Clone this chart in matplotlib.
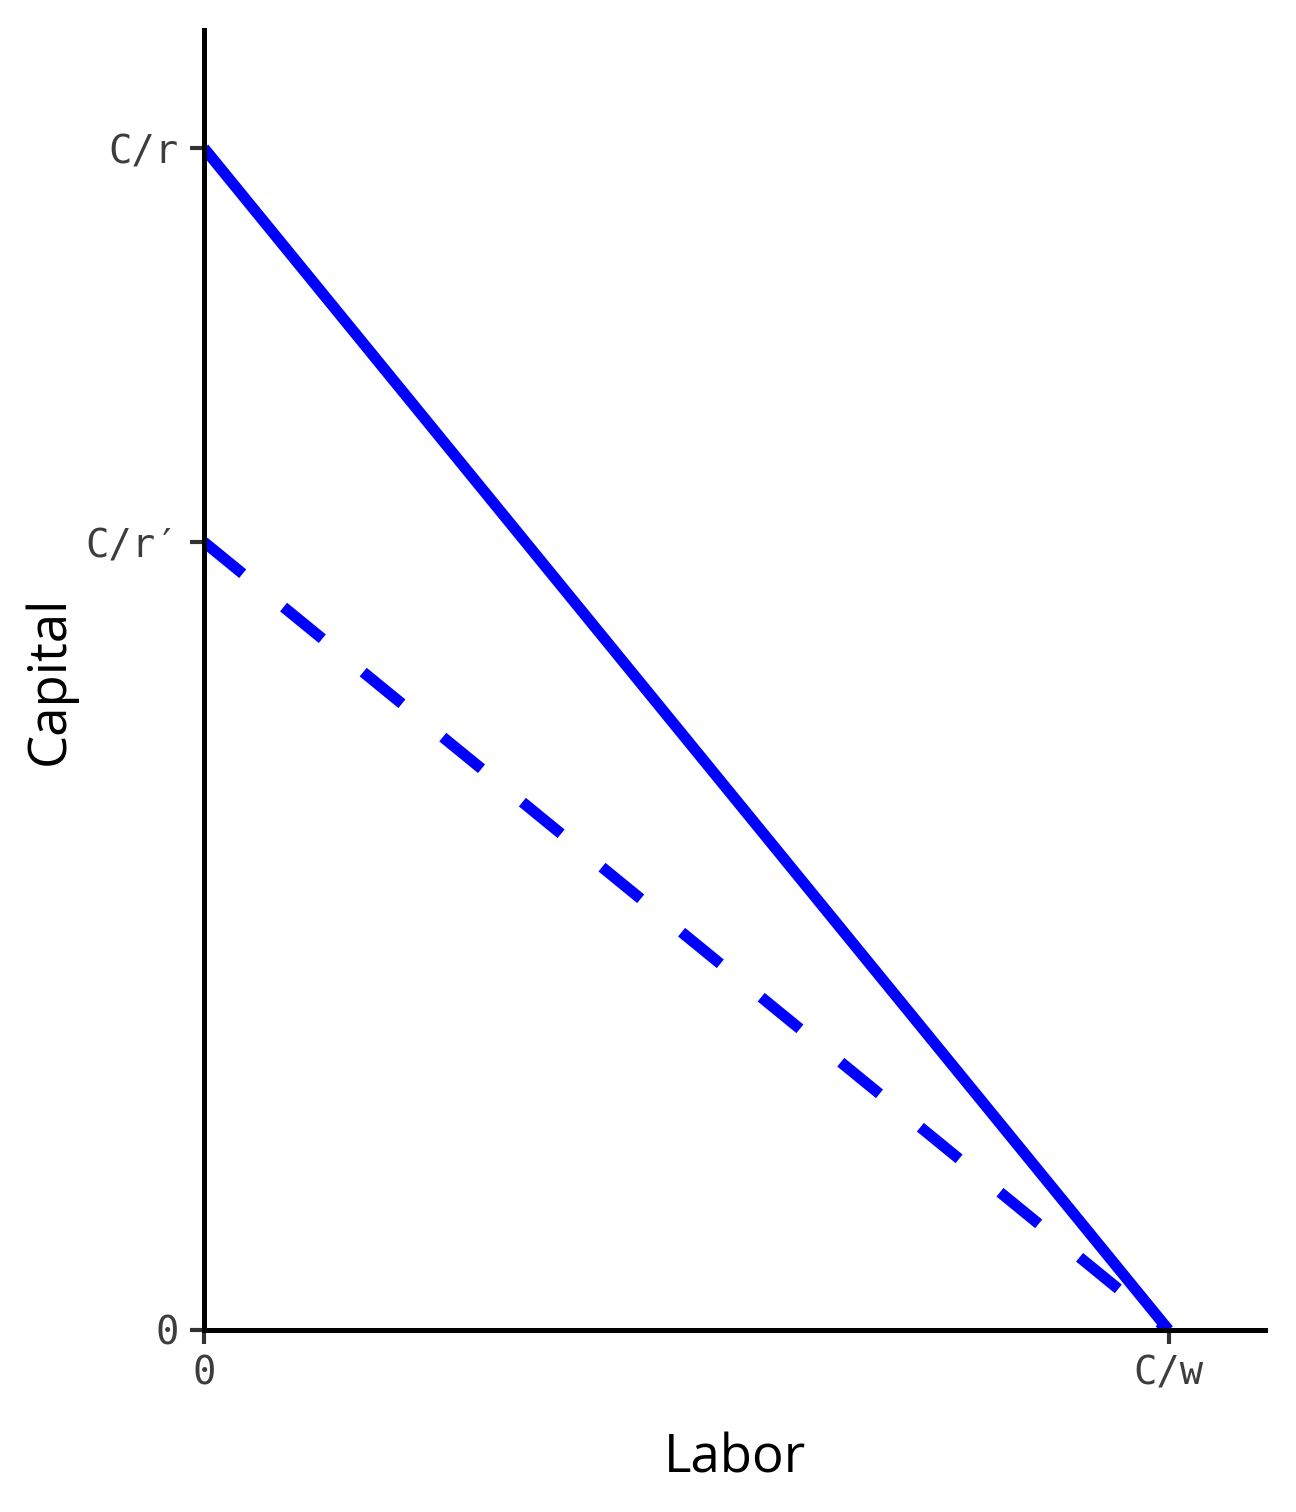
import matplotlib
matplotlib.use("Agg")
import matplotlib.pyplot as plt
from matplotlib import font_manager

# ---- data ----
budget_x = [0, 15]          # labor endpoints
budget_y = [15, 0]          # original budget line: C/r -> C/w
budget2_y = [10, 0]         # after r rises: C/r' -> C/w
x_ticks = [0, 15]
x_labels = ["0", "C/w"]
y_ticks = [0, 10, 15]
y_labels = ["0", "C/r\u2032", "C/r"]
lim = 16.5

names = {f.name for f in font_manager.fontManager.ttflist}
title_font = "Liberation Sans Narrow" if "Liberation Sans Narrow" in names else "Open Sans"

fig = plt.figure(figsize=(12.96, 15.12), dpi=100)
ax = fig.add_axes([0.1574, 0.1204, 0.8187, 0.8598])

ax.plot(budget_x, budget_y, color="blue", lw=8, solid_capstyle="butt")
ax.plot(budget_x, budget2_y, color="blue", lw=8, ls=(0, (4.5, 4.75)),
        dash_capstyle="butt")

ax.set_xlim(0, lim)
ax.set_ylim(0, lim)
for s in ["top", "right"]:
    ax.spines[s].set_visible(False)
for s in ["left", "bottom"]:
    ax.spines[s].set_linewidth(3.6)
    ax.spines[s].set_color("black")

ax.set_xticks(x_ticks)
ax.set_xticklabels(x_labels)
ax.set_yticks(y_ticks)
ax.set_yticklabels(y_labels)
ax.tick_params(length=10, width=3.0, color="#333333", labelcolor="#3d3d3d",
               labelsize=28, pad=8)
for lab in ax.get_xticklabels() + ax.get_yticklabels():
    lab.set_family("DejaVu Sans Mono")

ax.set_xlabel("Labor", fontsize=38, family=title_font, labelpad=28)
ax.set_ylabel("Capital", fontsize=38, family=title_font, labelpad=6)

fig.savefig("out.png", dpi=100)
